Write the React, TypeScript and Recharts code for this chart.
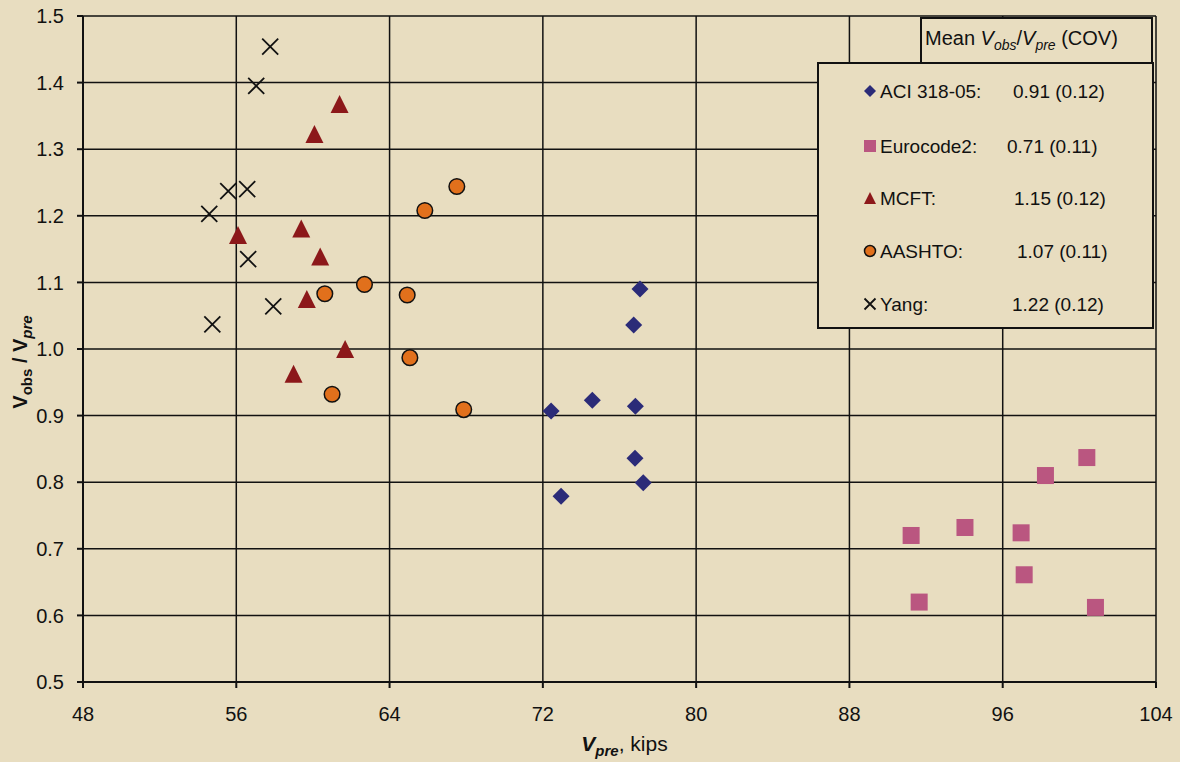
import React from "react";
import { ScatterChart, Scatter, XAxis, YAxis, CartesianGrid, Legend } from "recharts";

// V_pre (kips) and V_obs/V_pre
const aciX = [77.07, 76.74, 72.43, 74.58, 76.83, 76.81, 77.24, 72.95];
const aciY = [1.09, 1.036, 0.907, 0.923, 0.914, 0.836, 0.799, 0.779];

const euroX = [100.39, 98.23, 91.22, 94.03, 96.96, 97.12, 91.64, 100.84];
const euroY = [0.837, 0.81, 0.72, 0.732, 0.724, 0.661, 0.62, 0.612];

const mcftX = [61.39, 60.08, 59.39, 56.09, 60.38, 59.68, 61.68, 58.99];
const mcftY = [1.368, 1.323, 1.181, 1.171, 1.139, 1.075, 1.0, 0.963];

const aashtoX = [67.51, 65.84, 62.69, 60.62, 64.92, 65.06, 61.0, 67.87];
const aashtoY = [1.244, 1.208, 1.097, 1.083, 1.081, 0.987, 0.932, 0.909];

const yangX = [57.77, 57.04, 55.58, 56.57, 54.59, 56.62, 57.93, 54.75];
const yangY = [1.454, 1.395, 1.237, 1.24, 1.203, 1.135, 1.064, 1.037];

const seriesNames = ["ACI 318-05:", "Eurocode2:", "MCFT:", "AASHTO:", "Yang:"];
const meanCov = ["0.91 (0.12)", "0.71 (0.11)", "1.15 (0.12)", "1.07 (0.11)", "1.22 (0.12)"];

const xTicks = [48, 56, 64, 72, 80, 88, 96, 104];
const yTicks = [0.5, 0.6, 0.7, 0.8, 0.9, 1.0, 1.1, 1.2, 1.3, 1.4, 1.5];

const zip = (xs: number[], ys: number[]) => xs.map((x, i) => ({ x, y: ys[i] }));

const FONT = "'Liberation Sans', Arial, sans-serif";
const BG = "#E8DDC0";
const NAVY = "#2B2B78";
const PINK = "#BA5680";
const RED = "#8C181A";
const ORANGE = "#E1701C";

type MarkProps = { cx: number; cy: number; s: number };

const Diamond = ({ cx, cy, s }: MarkProps) => (
  <polygon points={`${cx},${cy - s} ${cx + s},${cy} ${cx},${cy + s} ${cx - s},${cy}`} fill={NAVY} />
);
const Square = ({ cx, cy, s }: MarkProps) => (
  <rect x={cx - s} y={cy - s} width={s * 2} height={s * 2} fill={PINK} />
);
const Triangle = ({ cx, cy, s }: MarkProps) => (
  <polygon points={`${cx},${cy - s} ${cx + s},${cy + s} ${cx - s},${cy + s}`} fill={RED} />
);
const Circle = ({ cx, cy, s }: MarkProps) => (
  <circle cx={cx} cy={cy} r={s} fill={ORANGE} stroke="#111" strokeWidth={1.5} />
);
const Cross = ({ cx, cy, s }: MarkProps) => (
  <path d={`M${cx - s},${cy - s}L${cx + s},${cy + s}M${cx - s},${cy + s}L${cx + s},${cy - s}`} stroke="#111" strokeWidth={1.8} />
);

const markers = [Diamond, Square, Triangle, Circle, Cross];
const legendMarkSize = [6, 6, 6, 5.5, 5.5];
// legend layout (row centres and value columns, px inside the legend box)
const rowY = [75, 130, 182, 235, 288];
const valueX = [197, 191, 198, 201, 196];

const renderLegend = () => (
  <svg width={340} height={315} style={{ display: "block" }}>
    <rect x={105} y={2} width={231} height={45} fill={BG} stroke="#111" strokeWidth={2} />
    <text x={109} y={28.5} fontSize={20} fontFamily={FONT} fill="#111">
      Mean <tspan fontStyle="italic">V</tspan>
      <tspan fontStyle="italic" fontSize={14} dy={5}>obs</tspan>
      <tspan dy={-5}>/</tspan>
      <tspan fontStyle="italic">V</tspan>
      <tspan fontStyle="italic" fontSize={14} dy={5}>pre</tspan>
      <tspan dy={-5}> (COV)</tspan>
    </text>
    <rect x={2} y={47} width={335} height={265} fill={BG} stroke="#111" strokeWidth={2} />
    {seriesNames.map((name, i) => {
      const cy = rowY[i];
      const Mark = markers[i];
      return (
        <g key={name}>
          <Mark cx={54} cy={cy} s={legendMarkSize[i]} />
          <text x={64} y={cy + 6.8} fontSize={19} fontFamily={FONT} fill="#111">{name}</text>
          <text x={valueX[i]} y={cy + 6.8} fontSize={19} fontFamily={FONT} fill="#111">{meanCov[i]}</text>
        </g>
      );
    })}
  </svg>
);

export default function App() {
  return (
    <div style={{ position: "absolute", left: 0, top: 0, width: 1180, height: 762, background: BG }}>
      <ScatterChart width={1180} height={762} margin={{ top: 16, right: 24, left: 0, bottom: 0 }}>
        <CartesianGrid stroke="#111" strokeWidth={1.5} />
        <XAxis
          type="number"
          dataKey="x"
          domain={[48, 104]}
          ticks={xTicks}
          height={80}
          stroke="#111"
          strokeWidth={2}
          tickSize={6}
          tickMargin={19}
          tick={{ fill: "#111", fontSize: 20, fontFamily: FONT }}
          label={{
            content: ({ viewBox }: any) => (
              <text x={viewBox.x + viewBox.width / 2 + 5} y={viewBox.y + 69} textAnchor="middle" fontSize={21} fontFamily={FONT} fill="#111">
                <tspan fontWeight="bold" fontStyle="italic">V</tspan>
                <tspan fontWeight="bold" fontStyle="italic" fontSize={15} dy={5}>pre</tspan>
                <tspan dy={-5}>, kips</tspan>
              </text>
            ),
          }}
        />
        <YAxis
          type="number"
          dataKey="y"
          domain={[0.5, 1.5]}
          ticks={yTicks}
          width={83}
          stroke="#111"
          strokeWidth={2}
          tickSize={6}
          tickMargin={13}
          tickFormatter={(v: number) => v.toFixed(1)}
          tick={{ fill: "#111", fontSize: 20, fontFamily: FONT }}
          label={{
            content: ({ viewBox }: any) => {
              const cy = viewBox.y + viewBox.height / 2 + 13;
              return (
                <text x={27} y={cy} transform={`rotate(-90, 27, ${cy})`} textAnchor="middle" fontSize={20} fontWeight="bold" fontFamily={FONT} fill="#111">
                  V<tspan fontSize={15} dy={5}>obs</tspan>
                  <tspan dy={-5}> / V</tspan>
                  <tspan fontSize={15} fontStyle="italic" dy={5}>pre</tspan>
                </text>
              );
            },
          }}
        />
        <Legend
          verticalAlign="middle"
          align="center"
          content={renderLegend}
          wrapperStyle={{ position: "absolute", left: 816, top: 16, width: 340, height: 315 }}
        />
        <Scatter name="ACI 318-05" data={zip(aciX, aciY)} isAnimationActive={false} shape={(p: any) => <Diamond cx={p.cx} cy={p.cy} s={8.5} />} />
        <Scatter name="Eurocode2" data={zip(euroX, euroY)} isAnimationActive={false} shape={(p: any) => <Square cx={p.cx} cy={p.cy} s={8.5} />} />
        <Scatter name="MCFT" data={zip(mcftX, mcftY)} isAnimationActive={false} shape={(p: any) => <Triangle cx={p.cx} cy={p.cy} s={9} />} />
        <Scatter name="AASHTO" data={zip(aashtoX, aashtoY)} isAnimationActive={false} shape={(p: any) => <Circle cx={p.cx} cy={p.cy} s={7.8} />} />
        <Scatter name="Yang" data={zip(yangX, yangY)} isAnimationActive={false} shape={(p: any) => <Cross cx={p.cx} cy={p.cy} s={8} />} />
      </ScatterChart>
    </div>
  );
}
